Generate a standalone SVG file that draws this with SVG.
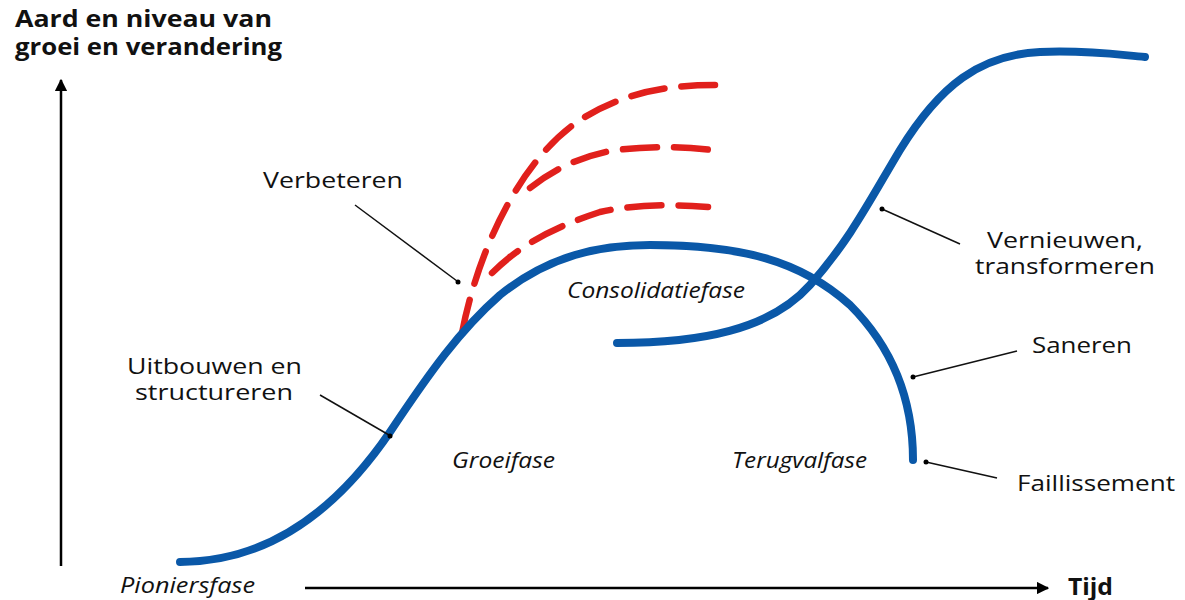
<svg xmlns="http://www.w3.org/2000/svg" width="1185" height="600" viewBox="0 0 1185 600">
<style>
text{font-family:"Open Sans","Noto Sans","Liberation Sans",sans-serif;fill:#111}
.t{font-size:24px;font-weight:bold}
.l{font-size:22px}
.p{font-size:21px;font-style:italic}
.blue{fill:none;stroke:#0a58a8;stroke-width:8;stroke-linecap:round}
.red{fill:none;stroke:#e1201c;stroke-width:6.5;stroke-linecap:round;stroke-dasharray:34 17}
.lead{stroke:#111;stroke-width:1.5}
.axis{stroke:#000;stroke-width:2.5}
</style>
<defs>
<marker id="ah" viewBox="0 0 10 10" refX="9" refY="5" markerWidth="5" markerHeight="5" orient="auto"><path d="M0,0 L10,5 L0,10 z" fill="#000"/></marker>
</defs>
<g id="title"><text class="t" x="15" y="27" textLength="257" lengthAdjust="spacingAndGlyphs">Aard en niveau van</text><text class="t" x="15" y="55" textLength="267" lengthAdjust="spacingAndGlyphs">groei en verandering</text></g>
<g id="axes">
<line class="axis" x1="61" y1="566" x2="61" y2="80" marker-end="url(#ah)"/>
<line class="axis" x1="305" y1="588" x2="1048" y2="588" marker-end="url(#ah)"/>
<text x="1068" y="595" style="font-size:23px;font-weight:bold" textLength="45" lengthAdjust="spacingAndGlyphs">Tijd</text>
</g>
<g id="curves">
<path id="red1" class="red" d="M462,333 C478,250 520,160 580,120 C620,95 660,85 715,85"/>
<path id="red2" class="red" d="M530,188 C550,172 575,158 610,151 C650,145 690,147 720,151"/>
<path id="red3" class="red" d="M492,273 C515,250 545,230 600,212 C640,203 680,205 708,207"/>
<path id="main" class="blue" d="M180,562 C260,562 330,520 390,432 C430,372 460,330 500,295 C550,255 600,245 650,245 C740,245 800,260 850,305 C900,355 913,410 913,460"/>
<path id="renew" class="blue" d="M617,343 C700,343 770,330 810,285 C850,240 870,200 900,150 C940,85 980,55 1040,52 C1090,50 1120,55 1145,57"/>
</g>
<g id="connectors">
<line class="lead" x1="355" y1="205" x2="457" y2="281"/><circle cx="458" cy="282" r="2.5"/>
<line class="lead" x1="320" y1="395" x2="389" y2="435"/><circle cx="390" cy="436" r="2.5"/>
<line class="lead" x1="960" y1="244" x2="882" y2="209"/><circle cx="882" cy="209" r="2.5"/>
<line class="lead" x1="1017" y1="351" x2="913" y2="377"/><circle cx="913" cy="377" r="2.5"/>
<line class="lead" x1="997" y1="478" x2="926" y2="462"/><circle cx="926" cy="462" r="2.5"/>
</g>
<g id="labels">
<text class="l" x="263" y="188" textLength="140" lengthAdjust="spacingAndGlyphs">Verbeteren</text>
<text class="l" x="127" y="374" textLength="175" lengthAdjust="spacingAndGlyphs">Uitbouwen en</text>
<text class="l" x="135" y="400" textLength="158" lengthAdjust="spacingAndGlyphs">structureren</text>
<text class="l" x="987" y="248" textLength="156" lengthAdjust="spacingAndGlyphs">Vernieuwen,</text>
<text class="l" x="975" y="274" textLength="180" lengthAdjust="spacingAndGlyphs">transformeren</text>
<text class="l" x="1032" y="353" textLength="100" lengthAdjust="spacingAndGlyphs">Saneren</text>
<text class="l" x="1017" y="491" textLength="158" lengthAdjust="spacingAndGlyphs">Faillissement</text>
</g>
<g id="phases">
<text class="p" x="567" y="298" textLength="178" lengthAdjust="spacingAndGlyphs">Consolidatiefase</text>
<text class="p" x="452" y="468" textLength="103" lengthAdjust="spacingAndGlyphs">Groeifase</text>
<text class="p" x="732" y="468" textLength="135" lengthAdjust="spacingAndGlyphs">Terugvalfase</text>
<text class="p" x="120" y="593" textLength="135" lengthAdjust="spacingAndGlyphs">Pioniersfase</text>
</g>
</svg>
